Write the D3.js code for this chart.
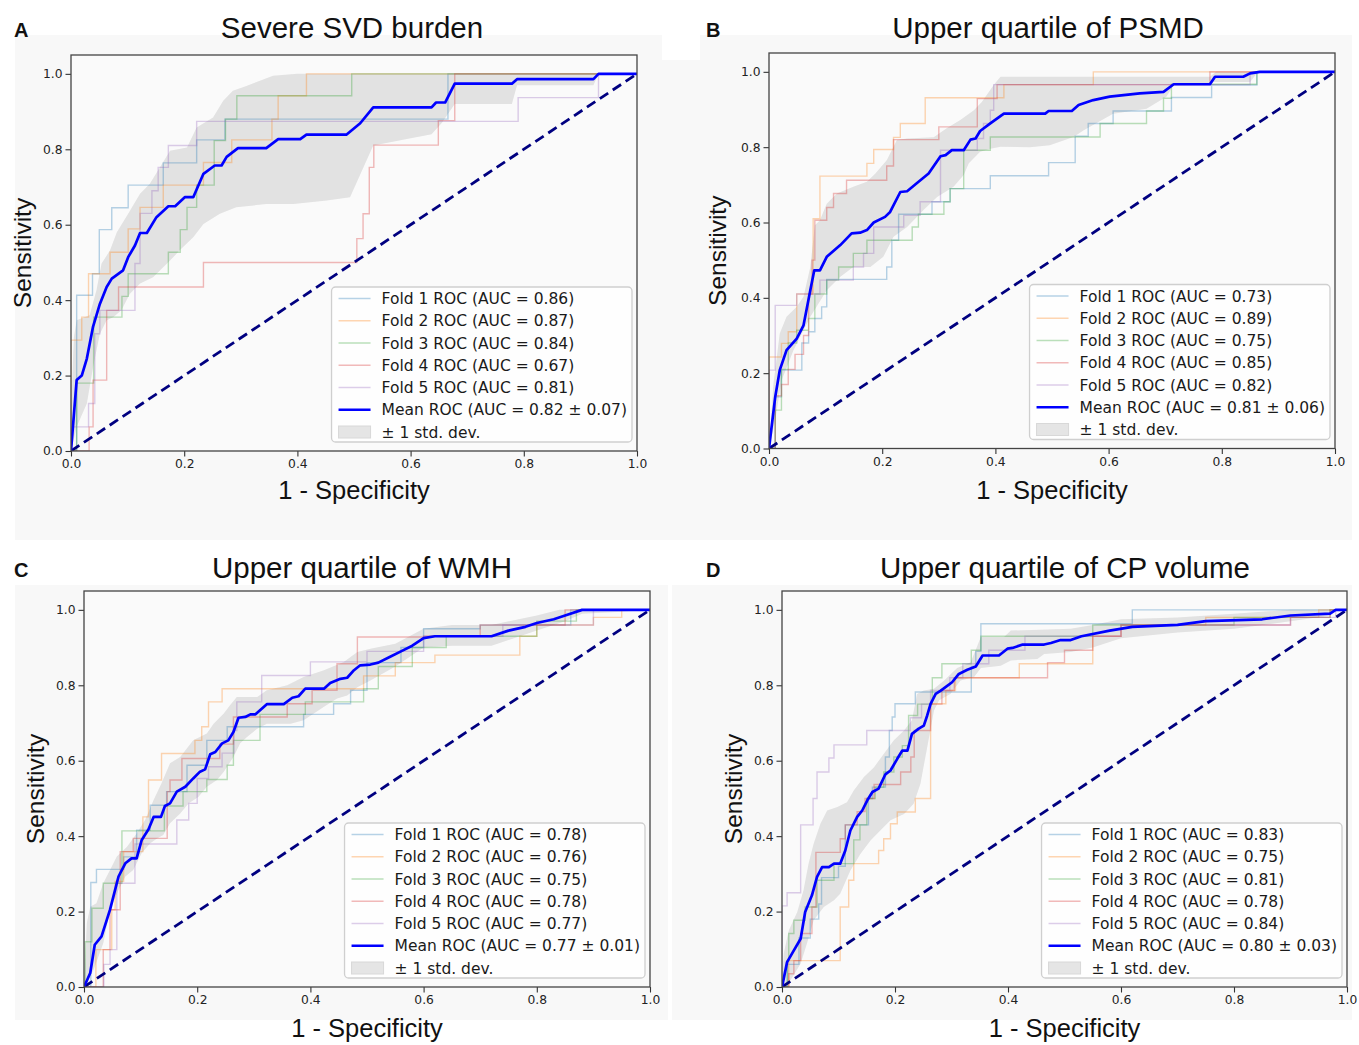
<!DOCTYPE html>
<html><head><meta charset="utf-8">
<script src="https://cdn.jsdelivr.net/npm/d3@7"></script>
<style>body{margin:0;background:#fff}</style></head>
<body><svg id="chart" width="1359" height="1045"></svg>
<script>
// ---------------- DATA ----------------
const panelLetters = ["A", "B", "C", "D"];
const panelTitles = ["Severe SVD burden", "Upper quartile of PSMD", "Upper quartile of WMH", "Upper quartile of CP volume"];
const tickValues = [0, 0.2, 0.4, 0.6, 0.8, 1.0];
const tickLabels = ["0.0", "0.2", "0.4", "0.6", "0.8", "1.0"];
const foldNames = ["Fold 1", "Fold 2", "Fold 3", "Fold 4", "Fold 5"];

const foldAucA = ["0.86", "0.87", "0.84", "0.67", "0.81"];
const foldAucB = ["0.73", "0.89", "0.75", "0.85", "0.82"];
const foldAucC = ["0.78", "0.76", "0.75", "0.78", "0.77"];
const foldAucD = ["0.83", "0.75", "0.81", "0.78", "0.84"];
const meanAuc = ["0.82 ± 0.07", "0.81 ± 0.06", "0.77 ± 0.01", "0.80 ± 0.03"];

// fold ROC staircases: [fpr, tpr] (tpr held until next fpr)
const foldsA = [
  [[0,0],[0.01,0.413],[0.038,0.47],[0.05,0.53],[0.05,0.587],[0.072,0.645],[0.101,0.705],[0.163,0.764],[0.222,0.825],[0.272,0.88],[0.666,1.0],[1,1]],
  [[0,0],[0,0.294],[0.019,0.355],[0.031,0.47],[0.069,0.527],[0.101,0.589],[0.122,0.646],[0.163,0.705],[0.234,0.765],[0.284,0.825],[0.355,0.88],[0.366,0.942],[0.416,1.0],[1,1]],
  [[0,0],[0.01,0.18],[0.04,0.355],[0.09,0.41],[0.101,0.47],[0.172,0.527],[0.193,0.587],[0.205,0.646],[0.222,0.705],[0.253,0.823],[0.273,0.88],[0.293,0.942],[0.496,1.0],[1,1]],
  [[0,0],[0.032,0.064],[0.039,0.188],[0.063,0.373],[0.084,0.435],[0.234,0.50],[0.505,0.563],[0.516,0.629],[0.527,0.752],[0.535,0.811],[0.649,0.876],[0.678,1.0],[1,1]],
  [[0,0],[0,0.064],[0.031,0.126],[0.042,0.311],[0.051,0.373],[0.113,0.497],[0.122,0.63],[0.143,0.69],[0.154,0.752],[0.172,0.81],[0.222,0.874],[0.79,0.937],[0.932,1.0],[1,1]]
];
const foldsB = [
  [[0,0],[0.011,0.137],[0.022,0.208],[0.058,0.28],[0.07,0.31],[0.081,0.345],[0.093,0.376],[0.102,0.449],[0.208,0.482],[0.217,0.553],[0.229,0.622],[0.288,0.655],[0.32,0.69],[0.391,0.724],[0.494,0.759],[0.541,0.829],[0.564,0.863],[0.608,0.896],[0.711,0.932],[0.782,0.965],[0.862,1.0],[1,1]],
  [[0,0],[0,0.243],[0.022,0.279],[0.034,0.31],[0.049,0.41],[0.078,0.61],[0.09,0.723],[0.173,0.757],[0.185,0.794],[0.22,0.826],[0.232,0.863],[0.276,0.931],[0.415,0.966],[0.573,1.0],[1,1]],
  [[0,0],[0.011,0.102],[0.022,0.21],[0.034,0.28],[0.049,0.314],[0.07,0.345],[0.081,0.41],[0.102,0.447],[0.123,0.482],[0.149,0.518],[0.173,0.553],[0.253,0.588],[0.264,0.622],[0.309,0.655],[0.32,0.69],[0.344,0.792],[0.391,0.827],[0.585,0.863],[0.667,0.896],[0.697,0.93],[0.711,0.967],[0.862,1.0],[1,1]],
  [[0,0],[0.011,0.14],[0.022,0.17],[0.034,0.21],[0.046,0.25],[0.061,0.3],[0.07,0.41],[0.076,0.5],[0.081,0.606],[0.102,0.64],[0.114,0.677],[0.137,0.712],[0.208,0.75],[0.22,0.82],[0.3,0.854],[0.368,0.929],[0.403,0.966],[0.779,1.0],[1,1]],
  [[0,0],[0,0.208],[0.011,0.38],[0.049,0.41],[0.09,0.447],[0.149,0.482],[0.167,0.518],[0.185,0.588],[0.238,0.619],[0.267,0.655],[0.303,0.792],[0.368,0.823],[0.379,0.863],[0.391,0.898],[0.397,0.966],[0.85,1.0],[1,1]]
];
const foldsC = [
  [[0,0],[0.012,0.277],[0.022,0.312],[0.07,0.345],[0.093,0.416],[0.117,0.482],[0.146,0.518],[0.182,0.588],[0.217,0.654],[0.253,0.69],[0.388,0.723],[0.441,0.751],[0.471,0.787],[0.5,0.86],[0.56,0.9],[0.6,0.95],[0.7,0.96],[0.86,1.0],[1,1]],
  [[0,0],[0.021,0.099],[0.049,0.205],[0.055,0.28],[0.07,0.359],[0.104,0.451],[0.114,0.549],[0.137,0.619],[0.196,0.654],[0.208,0.69],[0.22,0.756],[0.244,0.791],[0.494,0.825],[0.55,0.86],[0.62,0.88],[0.77,0.93],[0.8,0.96],[0.9,0.98],[0.95,1.0],[1,1]],
  [[0,0],[0.002,0.12],[0.014,0.209],[0.034,0.275],[0.067,0.414],[0.142,0.48],[0.175,0.518],[0.217,0.55],[0.253,0.588],[0.264,0.654],[0.311,0.723],[0.391,0.756],[0.494,0.791],[0.52,0.85],[0.58,0.9],[0.64,0.93],[0.8,0.97],[0.87,1.0],[1,1]],
  [[0,0],[0.034,0.099],[0.046,0.205],[0.064,0.359],[0.087,0.394],[0.147,0.518],[0.152,0.549],[0.173,0.606],[0.24,0.644],[0.264,0.716],[0.359,0.751],[0.403,0.787],[0.447,0.857],[0.483,0.928],[0.6,0.93],[0.7,0.96],[0.85,1.0],[1,1]],
  [[0,0],[0.035,0.06],[0.046,0.099],[0.058,0.275],[0.09,0.379],[0.164,0.443],[0.185,0.487],[0.2,0.553],[0.22,0.584],[0.244,0.62],[0.265,0.68],[0.27,0.756],[0.314,0.826],[0.4,0.862],[0.5,0.89],[0.6,0.93],[0.74,0.96],[0.9,1.0],[1,1]]
];
const foldsD = [
  [[0,0],[0.01,0.06],[0.03,0.13],[0.05,0.18],[0.065,0.22],[0.07,0.29],[0.1,0.32],[0.112,0.43],[0.153,0.5],[0.16,0.53],[0.183,0.61],[0.19,0.68],[0.195,0.716],[0.2,0.751],[0.236,0.782],[0.335,0.85],[0.343,0.89],[0.352,0.963],[0.62,1.0],[1,1]],
  [[0,0],[0.012,0.07],[0.103,0.212],[0.118,0.283],[0.127,0.327],[0.171,0.362],[0.18,0.393],[0.192,0.433],[0.204,0.464],[0.236,0.5],[0.263,0.751],[0.29,0.786],[0.307,0.82],[0.42,0.857],[0.55,0.93],[0.6,0.96],[0.75,0.98],[0.95,1.0],[1,1]],
  [[0,0],[0.009,0.07],[0.012,0.142],[0.021,0.177],[0.041,0.212],[0.062,0.283],[0.092,0.327],[0.127,0.39],[0.138,0.43],[0.15,0.5],[0.165,0.53],[0.18,0.57],[0.198,0.61],[0.213,0.64],[0.224,0.72],[0.24,0.75],[0.266,0.82],[0.283,0.857],[0.335,0.893],[0.352,0.93],[0.55,0.96],[0.8,0.98],[0.97,1.0],[1,1]],
  [[0,0],[0.012,0.035],[0.021,0.07],[0.033,0.142],[0.053,0.212],[0.06,0.357],[0.103,0.393],[0.112,0.43],[0.133,0.465],[0.147,0.5],[0.163,0.537],[0.21,0.57],[0.228,0.61],[0.234,0.68],[0.263,0.75],[0.283,0.786],[0.305,0.82],[0.47,0.86],[0.5,0.893],[0.55,0.93],[0.6,0.96],[0.9,0.98],[0.97,1.0],[1,1]],
  [[0,0],[0,0.215],[0.009,0.25],[0.033,0.43],[0.055,0.5],[0.062,0.57],[0.083,0.607],[0.092,0.642],[0.15,0.68],[0.227,0.714],[0.247,0.75],[0.263,0.786],[0.297,0.82],[0.32,0.857],[0.366,0.893],[0.43,0.93],[0.6,0.96],[0.9,0.98],[0.98,1.0],[1,1]]
];

// mean ROC curves: [fpr, tpr]
const meanA = [[0,0],[0.01,0.188],[0.019,0.2],[0.028,0.245],[0.039,0.33],[0.051,0.39],[0.063,0.435],[0.072,0.457],[0.092,0.479],[0.101,0.514],[0.113,0.545],[0.122,0.578],[0.134,0.578],[0.151,0.62],[0.172,0.649],[0.184,0.649],[0.201,0.673],[0.216,0.673],[0.234,0.735],[0.254,0.757],[0.266,0.757],[0.275,0.78],[0.295,0.803],[0.345,0.803],[0.366,0.827],[0.405,0.827],[0.416,0.839],[0.487,0.839],[0.511,0.869],[0.534,0.911],[0.637,0.911],[0.645,0.924],[0.661,0.924],[0.678,0.974],[0.779,0.974],[0.788,0.986],[0.923,0.986],[0.932,1.0],[1,1]];
const meanB = [[0,0],[0.011,0.137],[0.019,0.208],[0.031,0.261],[0.049,0.292],[0.061,0.327],[0.073,0.42],[0.08,0.473],[0.09,0.473],[0.102,0.509],[0.126,0.54],[0.146,0.571],[0.161,0.573],[0.173,0.58],[0.185,0.6],[0.205,0.615],[0.214,0.628],[0.232,0.681],[0.244,0.683],[0.261,0.704],[0.282,0.73],[0.303,0.776],[0.312,0.779],[0.323,0.792],[0.344,0.792],[0.356,0.82],[0.365,0.823],[0.373,0.843],[0.391,0.863],[0.415,0.889],[0.488,0.889],[0.494,0.896],[0.535,0.896],[0.547,0.912],[0.573,0.925],[0.602,0.934],[0.655,0.943],[0.697,0.947],[0.715,0.967],[0.779,0.967],[0.788,0.987],[0.838,0.987],[0.85,0.996],[0.867,1.0],[1,1]];
const meanC = [[0,0],[0.011,0.037],[0.019,0.112],[0.031,0.134],[0.046,0.205],[0.061,0.293],[0.073,0.328],[0.084,0.341],[0.093,0.341],[0.102,0.39],[0.114,0.418],[0.123,0.451],[0.136,0.451],[0.143,0.48],[0.152,0.487],[0.164,0.518],[0.179,0.531],[0.193,0.553],[0.205,0.571],[0.214,0.577],[0.223,0.617],[0.232,0.623],[0.244,0.646],[0.255,0.654],[0.264,0.676],[0.273,0.714],[0.285,0.716],[0.294,0.723],[0.303,0.723],[0.323,0.75],[0.353,0.75],[0.368,0.767],[0.379,0.771],[0.391,0.791],[0.424,0.791],[0.435,0.806],[0.453,0.817],[0.465,0.82],[0.477,0.84],[0.488,0.853],[0.506,0.855],[0.52,0.86],[0.54,0.875],[0.56,0.89],[0.58,0.905],[0.6,0.925],[0.62,0.93],[0.72,0.93],[0.75,0.945],[0.78,0.955],[0.8,0.965],[0.83,0.975],[0.85,0.985],[0.88,1.0],[1,1]];
const meanD = [[0,0],[0.009,0.066],[0.021,0.097],[0.033,0.128],[0.041,0.199],[0.053,0.243],[0.062,0.292],[0.071,0.318],[0.083,0.318],[0.092,0.327],[0.103,0.327],[0.112,0.362],[0.121,0.415],[0.133,0.451],[0.142,0.468],[0.151,0.495],[0.16,0.517],[0.171,0.526],[0.183,0.564],[0.192,0.574],[0.204,0.605],[0.213,0.627],[0.222,0.627],[0.23,0.671],[0.242,0.685],[0.251,0.693],[0.257,0.72],[0.263,0.751],[0.272,0.777],[0.281,0.786],[0.293,0.799],[0.301,0.808],[0.313,0.83],[0.328,0.841],[0.343,0.85],[0.355,0.879],[0.384,0.879],[0.399,0.897],[0.408,0.899],[0.426,0.908],[0.464,0.908],[0.476,0.912],[0.493,0.92],[0.511,0.92],[0.53,0.93],[0.58,0.945],[0.62,0.955],[0.7,0.96],[0.75,0.97],[0.85,0.975],[0.9,0.985],[0.97,0.99],[0.98,1.0],[1,1]];

// ±1 std. dev. band edges: [fpr, tpr]
const upperA = [[0,0.1],[0.005,0.3],[0.01,0.347],[0.033,0.36],[0.045,0.426],[0.054,0.497],[0.069,0.532],[0.081,0.58],[0.101,0.629],[0.122,0.682],[0.139,0.708],[0.157,0.752],[0.175,0.796],[0.205,0.805],[0.222,0.858],[0.251,0.884],[0.269,0.929],[0.286,0.955],[0.31,0.968],[0.357,0.995],[0.4,1.0],[1,1]];
const lowerA = [[0,0],[0.01,0.064],[0.028,0.126],[0.039,0.223],[0.051,0.311],[0.063,0.347],[0.075,0.355],[0.089,0.373],[0.104,0.417],[0.122,0.444],[0.145,0.461],[0.175,0.505],[0.192,0.532],[0.216,0.567],[0.234,0.602],[0.263,0.629],[0.292,0.646],[0.345,0.655],[0.393,0.655],[0.452,0.664],[0.493,0.673],[0.534,0.81],[0.637,0.84],[0.655,0.87],[0.678,0.92],[0.779,0.92],[0.788,0.97],[0.923,0.97],[0.932,1.0],[1,1]];
const upperB = [[0,0],[0.008,0.173],[0.019,0.305],[0.031,0.35],[0.049,0.376],[0.061,0.403],[0.073,0.482],[0.081,0.593],[0.09,0.606],[0.102,0.65],[0.12,0.677],[0.149,0.695],[0.173,0.708],[0.188,0.73],[0.208,0.765],[0.226,0.819],[0.244,0.823],[0.291,0.826],[0.314,0.85],[0.338,0.872],[0.362,0.898],[0.376,0.92],[0.397,0.965],[0.409,0.987],[0.779,0.987],[0.79,1.0],[1,1]];
const lowerB = [[0,0],[0.011,0.075],[0.022,0.18],[0.043,0.26],[0.061,0.314],[0.073,0.35],[0.084,0.376],[0.102,0.42],[0.126,0.456],[0.149,0.482],[0.179,0.482],[0.202,0.509],[0.22,0.562],[0.244,0.588],[0.273,0.633],[0.297,0.668],[0.326,0.695],[0.344,0.726],[0.353,0.757],[0.373,0.788],[0.391,0.796],[0.409,0.801],[0.461,0.8],[0.496,0.805],[0.538,0.827],[0.556,0.845],[0.608,0.889],[0.667,0.902],[0.702,0.934],[0.715,0.965],[0.779,0.965],[0.785,0.973],[0.85,0.973],[0.862,0.996],[0.87,1.0],[1,1]];
const upperC = [[0,0],[0.005,0.17],[0.011,0.213],[0.022,0.222],[0.034,0.275],[0.046,0.31],[0.058,0.346],[0.076,0.372],[0.093,0.407],[0.108,0.443],[0.123,0.496],[0.137,0.54],[0.152,0.593],[0.17,0.61],[0.193,0.654],[0.217,0.672],[0.229,0.698],[0.247,0.725],[0.258,0.747],[0.27,0.769],[0.306,0.769],[0.323,0.787],[0.359,0.8],[0.388,0.822],[0.424,0.84],[0.459,0.862],[0.483,0.888],[0.506,0.897],[0.55,0.91],[0.6,0.95],[0.65,0.96],[0.72,0.96],[0.8,0.985],[0.84,1.0],[1,1]];
const lowerC = [[0,0],[0.017,0.046],[0.034,0.116],[0.046,0.205],[0.061,0.257],[0.073,0.293],[0.087,0.31],[0.102,0.355],[0.117,0.381],[0.129,0.394],[0.14,0.403],[0.152,0.434],[0.17,0.46],[0.185,0.487],[0.202,0.504],[0.217,0.531],[0.235,0.549],[0.247,0.571],[0.264,0.61],[0.276,0.646],[0.288,0.663],[0.306,0.685],[0.323,0.698],[0.365,0.698],[0.388,0.707],[0.406,0.725],[0.424,0.743],[0.447,0.765],[0.465,0.773],[0.483,0.795],[0.506,0.813],[0.55,0.85],[0.6,0.9],[0.65,0.905],[0.72,0.905],[0.8,0.945],[0.85,0.97],[0.88,0.99],[0.95,0.995],[1,1]];
const upperD = [[0,0],[0.003,0.088],[0.012,0.15],[0.027,0.199],[0.038,0.256],[0.047,0.327],[0.056,0.38],[0.068,0.433],[0.08,0.468],[0.098,0.477],[0.115,0.49],[0.127,0.521],[0.145,0.557],[0.163,0.583],[0.18,0.618],[0.198,0.654],[0.216,0.68],[0.23,0.707],[0.239,0.777],[0.251,0.786],[0.269,0.791],[0.287,0.813],[0.31,0.846],[0.334,0.861],[0.352,0.928],[0.393,0.928],[0.405,0.945],[0.511,0.95],[0.55,0.96],[0.6,0.975],[0.7,0.98],[0.8,0.99],[0.9,1.0],[1,1]];
const lowerD = [[0,0],[0.015,0.018],[0.033,0.062],[0.044,0.115],[0.056,0.177],[0.074,0.212],[0.092,0.23],[0.103,0.247],[0.121,0.309],[0.139,0.353],[0.157,0.389],[0.174,0.415],[0.192,0.442],[0.216,0.459],[0.233,0.486],[0.245,0.539],[0.257,0.636],[0.269,0.733],[0.278,0.76],[0.298,0.777],[0.316,0.813],[0.34,0.822],[0.352,0.846],[0.387,0.852],[0.405,0.866],[0.452,0.87],[0.464,0.883],[0.511,0.888],[0.55,0.9],[0.6,0.925],[0.7,0.94],[0.8,0.95],[0.9,0.97],[0.97,0.985],[0.98,1.0],[1,1]];

// ---------------- DRAWING ----------------
const svg = d3.select("#chart");
const foldColors = ["#1f77b4", "#ff7f0e", "#2ca02c", "#d62728", "#9467bd"];
const panelBg = "#f8f8f8";

const bgRects = [[15,35,653,505],[668,35,684,505],[15,585,653,435],[672,585,680,435]];
bgRects.forEach(r => svg.append("rect").attr("x", r[0]).attr("y", r[1]).attr("width", r[2]).attr("height", r[3]).attr("fill", panelBg));
svg.append("rect").attr("x",662).attr("y",35).attr("width",38).attr("height",25).attr("fill","#fff");

const panels = [
  {letter: panelLetters[0], title: panelTitles[0], folds: foldsA, auc: foldAucA, mean: meanA, up: upperA, lo: lowerA, meanLabel: meanAuc[0],
   L: 71, R: 637, T: 55, B: 451, letterX: 14, titleX: 352, titleY: 38, ylabX: 31, xlabY: 499},
  {letter: panelLetters[1], title: panelTitles[1], folds: foldsB, auc: foldAucB, mean: meanB, up: upperB, lo: lowerB, meanLabel: meanAuc[1],
   L: 769, R: 1335, T: 53, B: 448.5, letterX: 706, titleX: 1048, titleY: 38, ylabX: 726, xlabY: 499},
  {letter: panelLetters[2], title: panelTitles[2], folds: foldsC, auc: foldAucC, mean: meanC, up: upperC, lo: lowerC, meanLabel: meanAuc[2],
   L: 84, R: 650, T: 591, B: 987, letterX: 14, titleX: 362, titleY: 578, ylabX: 44, xlabY: 1037},
  {letter: panelLetters[3], title: panelTitles[3], folds: foldsD, auc: foldAucD, mean: meanD, up: upperD, lo: lowerD, meanLabel: meanAuc[3],
   L: 782, R: 1347, T: 591, B: 987, letterX: 706, titleX: 1065, titleY: 578, ylabX: 742, xlabY: 1037}
];

panels.forEach(p => {
  const x = d3.scaleLinear().domain([0, 1]).range([p.L, p.R]);
  const y = d3.scaleLinear().domain([0, 1.05]).range([p.B, p.T]);
  const g = svg.append("g");

  g.append("rect").attr("x", p.L).attr("y", p.T).attr("width", p.R - p.L).attr("height", p.B - p.T).attr("fill", "#fafafa");

  const clipId = "clip" + p.letter;
  svg.append("clipPath").attr("id", clipId).append("rect")
    .attr("x", p.L).attr("y", p.T).attr("width", p.R - p.L).attr("height", p.B - p.T);
  const plot = g.append("g").attr("clip-path", `url(#${clipId})`);

  const bandPts = p.up.concat(p.lo.slice().reverse());
  plot.append("path").datum(bandPts)
    .attr("d", d3.line().x(d => x(d[0])).y(d => y(d[1])).curve(d3.curveLinearClosed))
    .attr("fill", "grey").attr("fill-opacity", 0.2).attr("stroke", "none");

  const stepLine = d3.line().x(d => x(d[0])).y(d => y(d[1])).curve(d3.curveStepAfter);
  p.folds.forEach((f, i) => {
    plot.append("path").datum(f).attr("d", stepLine)
      .attr("fill", "none").attr("stroke", foldColors[i]).attr("stroke-opacity", 0.32).attr("stroke-width", 1.4);
  });

  plot.append("line").attr("x1", x(0)).attr("y1", y(0)).attr("x2", x(1)).attr("y2", y(1))
    .attr("stroke", "#000080").attr("stroke-width", 2.8).attr("stroke-dasharray", "10,5.5");

  plot.append("path").datum(p.mean)
    .attr("d", d3.line().x(d => x(d[0])).y(d => y(d[1])))
    .attr("fill", "none").attr("stroke", "#0000ff").attr("stroke-width", 2.7).attr("stroke-linejoin", "round");

  const xAxis = d3.axisBottom(x).tickValues(tickValues).tickFormat((d, i) => tickLabels[i]).tickSize(5.5).tickPadding(3);
  const yAxis = d3.axisLeft(y).tickValues(tickValues).tickFormat((d, i) => tickLabels[i]).tickSize(5.5).tickPadding(3);
  const gx = g.append("g").attr("transform", `translate(0,${p.B})`).call(xAxis);
  const gy = g.append("g").attr("transform", `translate(${p.L},0)`).call(yAxis);
  [gx, gy].forEach(a => {
    a.select(".domain").remove();
    a.selectAll(".tick line").attr("stroke", "#333").attr("stroke-width", 1.1);
    a.selectAll(".tick text").attr("fill", "#222").style("font-family", "DejaVu Sans").style("font-size", "12.3px");
  });
  g.append("rect").attr("x", p.L).attr("y", p.T).attr("width", p.R - p.L).attr("height", p.B - p.T)
    .attr("fill", "none").attr("stroke", "#444").attr("stroke-width", 1.3);

  // legend
  const rowH = 22.25;
  const lg = g.append("g");
  const entries = p.auc.map((a, i) => ({label: `${foldNames[i]} ROC (AUC = ${a})`, type: "fold", i}));
  entries.push({label: `Mean ROC (AUC = ${p.meanLabel})`, type: "mean"});
  entries.push({label: "± 1 std. dev.", type: "std"});
  const boxBottom = p.B - 9;
  const lastRow = boxBottom - 10;
  const firstRow = lastRow - rowH * (entries.length - 1);
  const boxTop = firstRow - 11.5;
  const boxH = boxBottom - boxTop;
  const box = lg.append("rect").attr("rx", 4).attr("fill", "#fff").attr("fill-opacity", 0.8)
    .attr("stroke", "#cfcfcf").attr("stroke-width", 1.3);
  const texts = [];
  entries.forEach((e, k) => {
    const cy = firstRow + rowH * k;
    const t = lg.append("text").attr("y", cy).attr("dy", "0.36em").text(e.label)
      .style("font-family", "DejaVu Sans").style("font-size", "15.5px").attr("fill", "#1a1a1a");
    texts.push({t, e, cy});
  });
  const maxW = d3.max(texts, o => o.t.node().getComputedTextLength());
  const boxW = maxW + 55;
  const boxLeft = p.R - 5 - boxW;
  box.attr("x", boxLeft).attr("y", boxTop).attr("width", boxW).attr("height", boxH);
  texts.forEach(o => {
    o.t.attr("x", boxLeft + 50);
    const hx1 = boxLeft + 7, hx2 = boxLeft + 39;
    if (o.e.type === "fold") {
      lg.append("line").attr("x1", hx1).attr("x2", hx2).attr("y1", o.cy).attr("y2", o.cy)
        .attr("stroke", foldColors[o.e.i]).attr("stroke-opacity", 0.32).attr("stroke-width", 1.6);
    } else if (o.e.type === "mean") {
      lg.append("line").attr("x1", hx1).attr("x2", hx2).attr("y1", o.cy).attr("y2", o.cy)
        .attr("stroke", "#0000ff").attr("stroke-width", 2.7);
    } else {
      lg.append("rect").attr("x", hx1).attr("y", o.cy - 6).attr("width", hx2 - hx1).attr("height", 12)
        .attr("fill", "grey").attr("fill-opacity", 0.2).attr("stroke", "#d8d8d8");
    }
  });

  svg.append("text").attr("x", p.letterX).attr("y", p.titleY - 1).text(p.letter)
    .style("font-family", "Liberation Sans").style("font-weight", "bold").style("font-size", "20px").attr("fill", "#111");
  svg.append("text").attr("x", p.titleX).attr("y", p.titleY).attr("text-anchor", "middle").text(p.title)
    .style("font-family", "Liberation Sans").style("font-size", "29.5px").attr("fill", "#111");
  svg.append("text").attr("transform", `translate(${p.ylabX},${(p.T + p.B) / 2}) rotate(-90)`)
    .attr("text-anchor", "middle").text("Sensitivity")
    .style("font-family", "Liberation Sans").style("font-size", "24.5px").attr("fill", "#111");
  svg.append("text").attr("x", (p.L + p.R) / 2).attr("y", p.xlabY).attr("text-anchor", "middle").text("1 - Specificity")
    .style("font-family", "Liberation Sans").style("font-size", "25.5px").attr("fill", "#111");
});
</script>
</body></html>
